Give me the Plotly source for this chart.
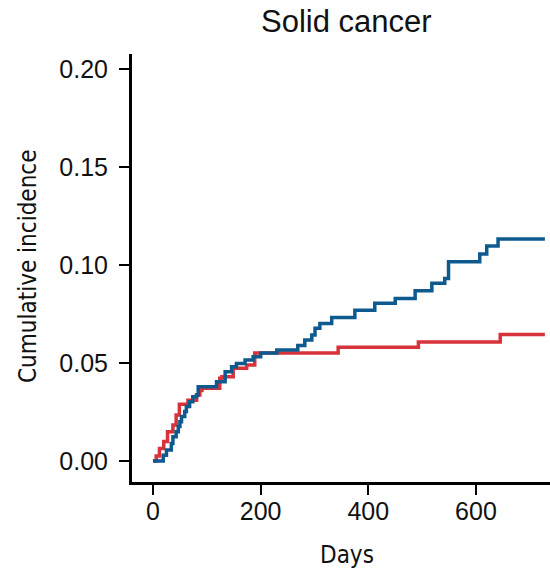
import plotly.graph_objects as go

# Blue series (step function): days, cumulative incidence
blue_days = [0, 19, 25, 34, 37, 43, 47, 50, 53, 59, 62, 68, 74, 81, 84, 118, 134, 146, 155,
             171, 186, 200, 230, 269, 282, 295, 301, 310, 332, 375, 412, 450, 487, 518, 542,
             549, 607, 620, 641, 728]
blue_vals = [0.0, 0.003, 0.0056, 0.009, 0.0124, 0.015, 0.0176, 0.020, 0.0227, 0.0253, 0.0278,
             0.0303, 0.0328, 0.0337, 0.0379, 0.0405, 0.0456, 0.0481, 0.0498, 0.0515, 0.0532,
             0.0551, 0.0566, 0.059, 0.0617, 0.0643, 0.0677, 0.0702, 0.0733, 0.077, 0.0805,
             0.083, 0.0869, 0.0907, 0.0932, 0.1017, 0.1056, 0.1097, 0.1133, 0.1133]

# Red series (step function)
red_days = [0, 6, 12, 20, 27, 37, 43, 49, 65, 81, 87, 91, 124, 128, 149, 174, 189, 344, 493, 645, 728]
red_vals = [0.0, 0.0026, 0.0064, 0.010, 0.0149, 0.0184, 0.0235, 0.0290, 0.031, 0.0337, 0.036,
            0.0371, 0.0422, 0.043, 0.0473, 0.049, 0.0551, 0.058, 0.0607, 0.0646, 0.0646]

x_ticks = [0, 200, 400, 600]
y_ticks = [0.00, 0.05, 0.10, 0.15, 0.20]

title_text = "Solid cancer"
x_title = "Days"
y_title = "Cumulative incidence"

W, H = 550, 573
ML, MR, MT, MB = 132, 0, 54, 91
PW, PH = W - ML - MR, H - MT - MB


def px_to_paper(px, py):
    return (px - ML) / PW, (H - MB - py) / PH


fig = go.Figure()
fig.add_trace(go.Scatter(x=red_days, y=red_vals, mode="lines", line=dict(shape="hv", color="#d8333b", width=3.5),
                         showlegend=False))
fig.add_trace(go.Scatter(x=blue_days, y=blue_vals, mode="lines", line=dict(shape="hv", color="#0e5a8e", width=3.5),
                         showlegend=False))

tick_font = dict(family="Liberation Sans, Arial, sans-serif", size=25, color="#111111")
axis_title_font = dict(family="DejaVu Sans Condensed", size=24, color="#111111")

fig.update_xaxes(range=[-39, 737.5], tickvals=x_ticks, ticks="outside", ticklen=10, tickwidth=2,
                 tickcolor="black", showline=True, linewidth=3, linecolor="black", showgrid=False,
                 zeroline=False, tickfont=tick_font, ticklabelstandoff=-5)
fig.update_yaxes(range=[-0.0107, 0.2077], tickvals=y_ticks, tickformat=".2f", ticks="outside", ticklen=10,
                 tickwidth=2, tickcolor="black", showline=True, linewidth=3, linecolor="black",
                 showgrid=False, zeroline=False, tickfont=tick_font, ticklabelstandoff=6)

tx, ty = px_to_paper(346, 21)
dx, dy = px_to_paper(347, 555)
cx, cy = px_to_paper(28, 266)

fig.update_layout(
    width=W, height=H, autosize=False,
    margin=dict(l=ML, r=MR, t=MT, b=MB),
    plot_bgcolor="white", paper_bgcolor="white",
    annotations=[
        dict(text=title_text, x=tx, y=ty, xref="paper", yref="paper", showarrow=False,
             xanchor="center", yanchor="middle",
             font=dict(family="Liberation Sans, Arial, sans-serif", size=31, color="#111111")),
        dict(text=x_title, x=dx, y=dy, xref="paper", yref="paper", showarrow=False,
             xanchor="center", yanchor="middle", font=axis_title_font),
        dict(text=y_title, x=cx, y=cy, xref="paper", yref="paper", showarrow=False, textangle=-90,
             xanchor="center", yanchor="middle", font=axis_title_font),
    ],
)

fig.write_html("out.html")
